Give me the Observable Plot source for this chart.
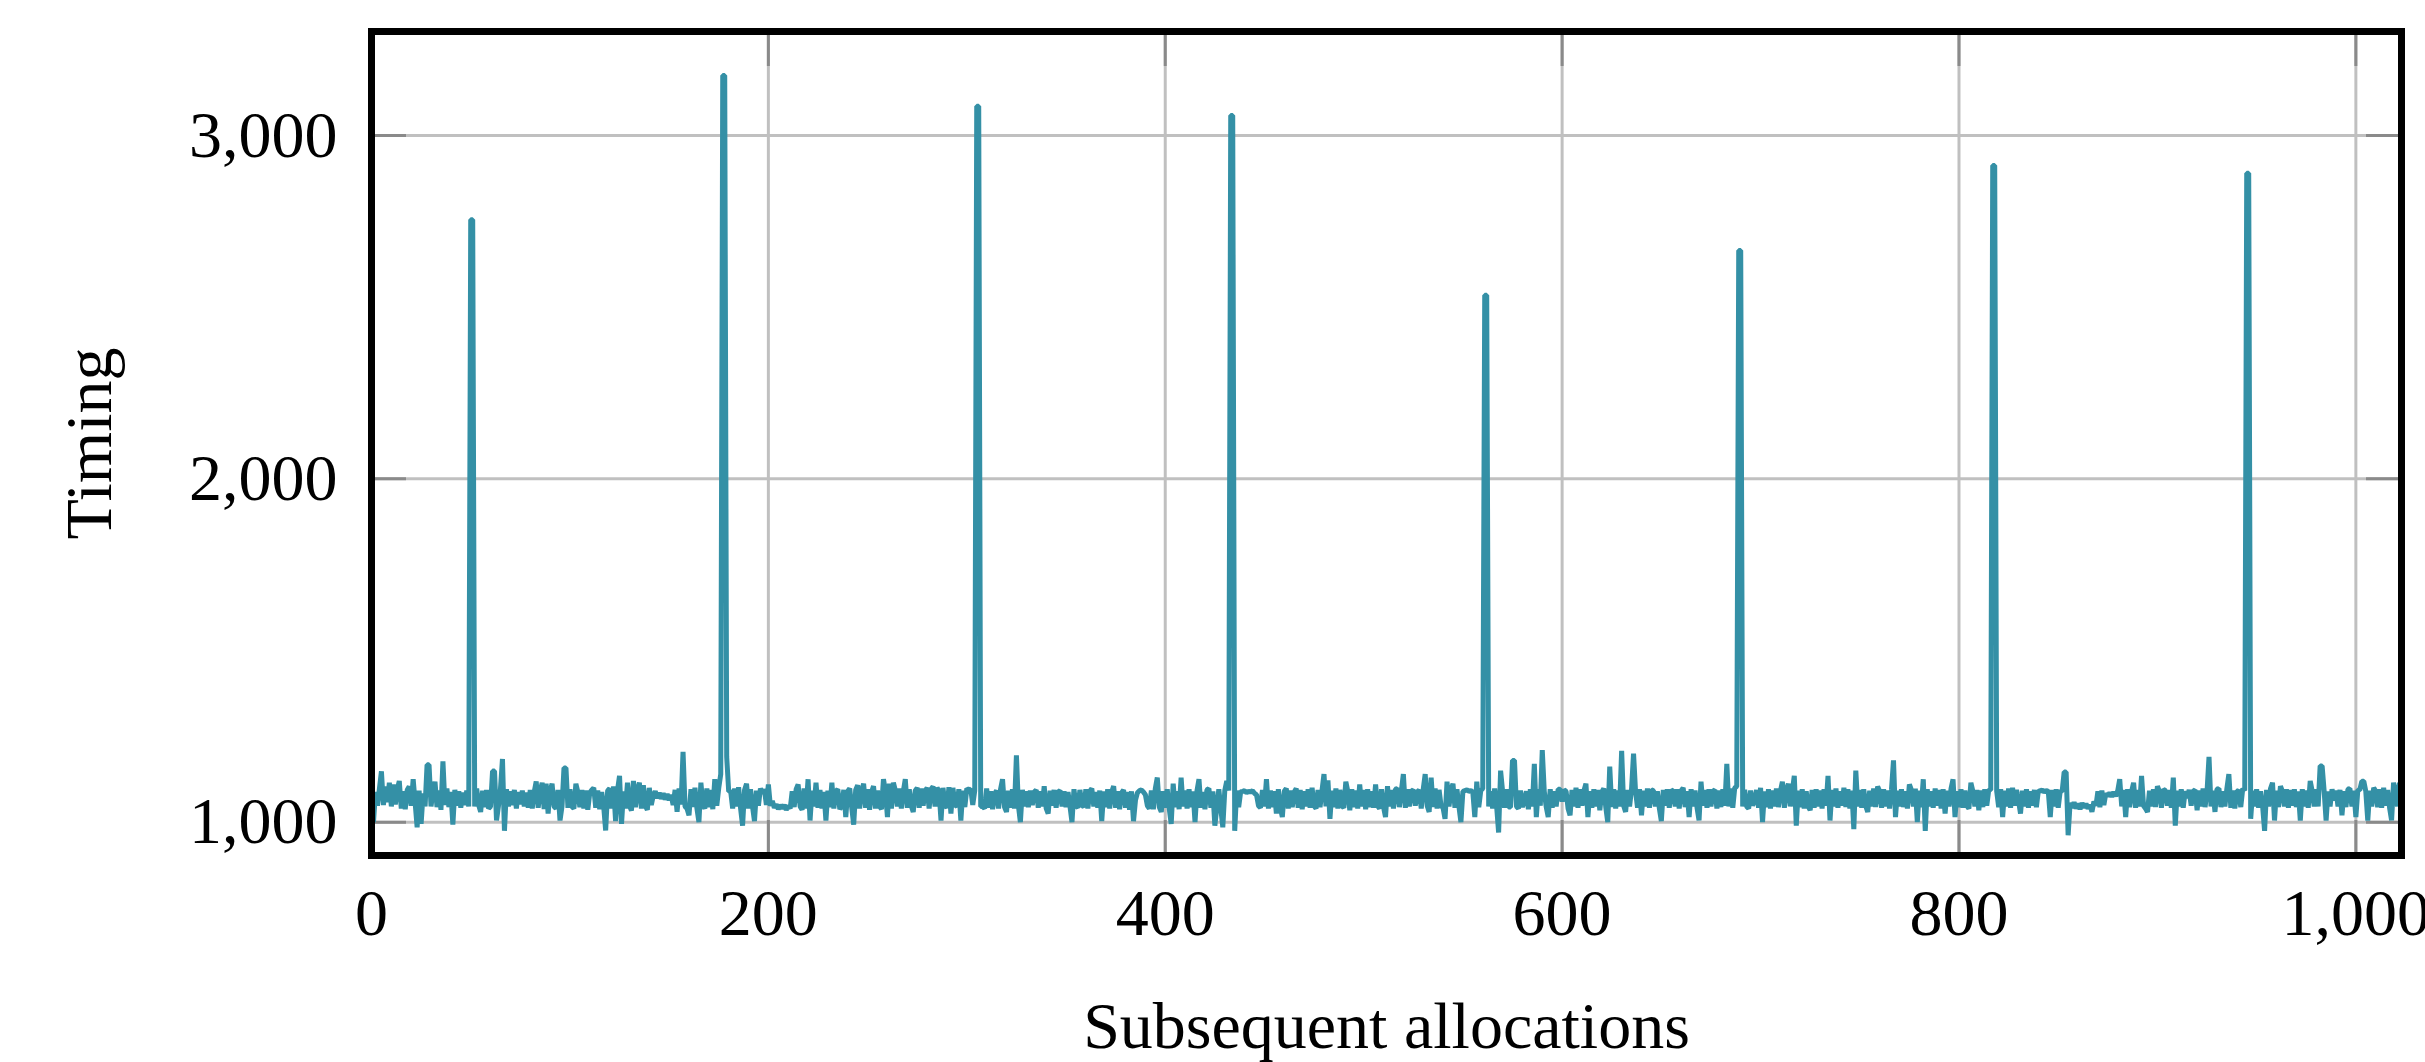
<!DOCTYPE html>
<html>
<head>
<meta charset="utf-8">
<script src="https://cdn.jsdelivr.net/npm/d3@7"></script>
<script src="https://cdn.jsdelivr.net/npm/@observablehq/plot@0.6"></script>
<style>
html, body { margin: 0; padding: 0; background: #ffffff; }
#chart svg { display: block; }
</style>
</head>
<body>
<div id="chart"></div>
<script>
// Timing of 1024 subsequent allocations
const timing = [
1062,1000,1088,1048,1098,1148,1050,1104,1058,1115,1046,1110,1052,1096,1120,1040,
1090,1038,1094,1104,1048,1125,1056,985,1092,995,1084,1046,1167,1167,1046,1092,
1118,1044,1092,1036,1177,1050,1098,1044,1088,993,1094,1048,1090,1042,1086,1050,
1092,1046,2755,2755,1046,1098,1050,1030,1092,1044,1094,1040,1046,1149,1149,1005,
1048,1098,1184,975,1096,1046,1090,1050,1094,1040,1088,1052,1092,1046,1086,1042,
1094,1040,1088,1119,1042,1090,1115,1038,1112,1025,1092,1112,1046,1040,1094,1005,
1046,1158,1158,1042,1096,1046,1040,1112,1088,1044,1094,1040,1092,1036,1086,1094,
1100,1042,1092,1038,1088,1046,976,1092,1098,1040,1104,1003,1094,1135,995,1090,
1040,1115,1048,1034,1120,1044,1094,1115,1040,1108,1048,1036,1100,1050,1078,1090,
1070,1086,1068,1084,1066,1082,1064,1080,1050,1094,1030,1098,1052,1205,1046,1040,
1020,1096,1044,1100,1040,1000,1115,1050,1040,1098,1044,1094,1038,1125,1048,1100,
1140,3175,3175,1190,1090,1090,1040,1098,1046,1102,1040,990,1094,1112,1040,1096,
1046,1003,1092,1048,1098,1084,1096,1050,1110,1048,1062,1042,1052,1038,1050,1040,
1050,1036,1048,1040,1090,1044,1096,1110,1046,1036,1098,1040,1125,1005,1092,1046,
1115,1042,1094,1040,1088,1005,1092,1044,1115,1040,1090,1096,1038,1048,1094,1015,
1090,1098,1042,993,1094,1108,1040,1090,1112,1042,1096,1036,1088,1105,1040,1092,
1046,1038,1125,1090,1015,1112,1040,1115,1092,1046,1098,1040,1090,1125,1042,1096,
1048,1030,1092,1100,1042,1098,1048,1092,1100,1040,1096,1104,1046,1100,1090,1005,
1100,1050,1042,1102,1025,1100,1050,1046,1096,1005,1092,1044,1098,1094,1096,1050,
1092,3085,3085,1046,1046,1040,1098,1042,1090,1038,1082,1092,1040,1096,1125,1044,
1030,1092,1042,1096,1040,1195,1048,1000,1094,1046,1090,1044,1092,1050,1088,1094,
1042,1090,1046,1105,1040,1025,1092,1048,1094,1042,1088,1092,1046,1090,1044,1088,
1046,1000,1096,1048,1042,1094,1050,1044,1096,1040,1090,1098,1046,1088,1042,1092,
1003,1090,1044,1096,1040,1088,1105,1042,1090,1038,1086,1094,1042,1088,1036,1090,
1003,1064,1086,1092,1094,1088,1080,1048,1040,1092,1038,1098,1130,1044,1030,1090,
1042,1096,1040,995,1112,1044,1090,1038,1130,1046,1092,1040,1096,1044,1090,1000,
1092,1125,1042,1088,1038,1094,1098,1042,1090,990,1044,1096,1040,985,1092,1120,
1092,3058,3058,975,1092,1044,1088,1090,1092,1086,1090,1088,1092,1084,1080,1048,
1042,1094,1046,1125,1040,1092,1044,1090,1025,1096,1042,1015,1090,1098,1040,1092,
1044,1088,1098,1042,1094,1038,1090,1046,1096,1042,1100,1048,1040,1094,1044,1092,
1140,1046,1122,1010,1092,1044,1098,1040,1094,1048,1042,1118,1090,1035,1096,1044,
1092,1040,1110,1046,1094,1038,1096,1044,1090,1042,1110,1048,1040,1096,1044,1015,
1105,1046,1094,1040,1096,1098,1044,1092,1140,1042,1096,1046,1090,1094,1048,1088,
1094,1040,1096,1140,1048,1030,1130,1044,1098,1040,1094,1048,1042,1010,1118,1046,
1094,1112,1042,1096,1046,1000,1090,1092,1094,1090,1092,1088,1015,1118,1044,1092,
1098,2535,2535,1046,1090,1040,1098,1046,970,1150,1090,1042,1096,1044,1044,1180,
1180,1046,1040,1092,1044,1063,1090,1038,1096,1046,1170,1015,1096,1048,1210,1090,
1044,1015,1096,1042,1090,1046,1096,1096,1060,1094,1090,1040,1020,1094,1046,1100,
1042,1096,1048,1092,1112,1015,1090,1042,1096,1046,1094,1035,1088,1098,1044,1000,
1162,1044,1096,1040,1092,1046,1208,1048,1030,1094,1046,1098,1200,1090,1042,1096,
1020,1092,1046,1098,1042,1094,1092,1046,1090,1040,1003,1094,1048,1096,1042,1094,
1090,1046,1096,1040,1092,1100,1044,1090,1015,1096,1046,1092,1042,1005,1118,1048,
1094,1042,1096,1046,1090,1094,1040,1092,1044,1096,1048,1170,1046,1098,1042,1100,
1104,2665,2665,1046,1094,1046,1040,1092,1048,1063,1094,1042,1100,1000,1090,1044,
1096,1040,1092,1046,1098,1044,1090,1118,1042,1094,1112,1046,1090,1135,990,1092,
1044,1096,1040,1090,1046,1035,1094,1042,1096,1046,1092,1040,1096,1048,1135,1005,
1094,1046,1098,1042,1090,1048,1100,1044,1096,1040,1092,980,1150,1046,1094,1042,
1096,1048,1030,1092,1046,1098,1044,1104,1090,1042,1096,1046,1092,1040,1096,1180,
1015,1092,1046,1096,1044,1090,1040,1110,1094,1046,1098,1000,1092,1044,1125,975,
1096,1046,1090,1042,1098,1048,1094,1040,1096,1025,1092,1046,1098,1125,1015,1090,
1044,1096,1042,1092,1048,1040,1115,1090,1046,1094,1035,1092,1044,1096,1048,1094,
1094,2913,2913,1090,1044,1096,1015,1092,1046,1098,1042,1100,1048,1094,1063,1025,
1092,1046,1096,1042,1090,1048,1094,1044,1092,1090,1094,1088,1092,1090,1015,1094,
1046,1096,1042,1090,1090,1146,1146,962,1056,1042,1058,1040,1054,1038,1056,1042,
1054,1040,1050,1030,1060,1048,1090,1044,1092,1050,1084,1076,1086,1074,1088,1076,
1092,1125,1046,1094,1015,1096,1044,1090,1115,1042,1094,1046,1135,1048,1040,1030,
1092,1046,1096,1044,1105,1090,1042,1096,1092,1048,1094,1042,1130,990,1092,1046,
1096,1042,1090,1070,1094,1048,1090,1094,1035,1092,1046,1098,1044,1090,1190,1046,
1092,1030,1096,1098,1044,1090,1046,1098,1140,1042,1092,1040,1088,1094,1044,1098,
1092,2890,2890,1010,1092,1046,1096,1042,1090,1048,975,1094,1046,1098,1115,1005,
1092,1044,1105,1090,1046,1096,1042,1094,1048,1096,1044,1090,1005,1096,1046,1092,
1042,1120,1090,1046,1096,1046,1164,1164,1092,1005,1090,1046,1096,1063,1092,1046,
1094,1020,1090,1044,1096,1098,1046,1092,1015,1094,1094,1119,1119,1090,1005,1092,
1046,1100,1090,1044,1096,1042,1100,1048,1094,1042,1005,1115,1090,1046,1115,1090
];
const xTicks = [0, 200, 400, 600, 800, 1000];
const yTicks = [1000, 2000, 3000];
const xLabel = "Subsequent allocations";
const yLabel = "Timing";

if (timing.length !== 1024) throw new Error("timing length " + timing.length);

const rows = timing.map((v, i) => ({i, v}));
const font = "'Liberation Serif', 'Times New Roman', serif";
const W = 2425, H = 1062;
const mL = 371, mR = 24, mT = 31, mB = 207;
const frameW = W - mL - mR, frameH = H - mT - mB;
const tickLen = 35;
const tickColor = "#8a8a8a";
const gridColor = "#c0c0c0";

const chart = Plot.plot({
  width: W,
  height: H,
  marginLeft: mL,
  marginRight: mR,
  marginTop: mT,
  marginBottom: mB,
  style: {fontFamily: font, fontSize: "66px", background: "#ffffff", color: "#000000"},
  x: {domain: [0, 1023]},
  y: {domain: [903, 3303]},
  marks: [
    Plot.gridX(xTicks, {stroke: gridColor, strokeOpacity: 1, strokeWidth: 3}),
    Plot.gridY(yTicks, {stroke: gridColor, strokeOpacity: 1, strokeWidth: 3}),
    Plot.tickX(xTicks, {x: d => d, stroke: tickColor, strokeWidth: 3, insetTop: frameH - tickLen}),
    Plot.tickX(xTicks, {x: d => d, stroke: tickColor, strokeWidth: 3, insetBottom: frameH - tickLen}),
    Plot.tickY(yTicks, {y: d => d, stroke: tickColor, strokeWidth: 3, insetRight: frameW - tickLen}),
    Plot.tickY(yTicks, {y: d => d, stroke: tickColor, strokeWidth: 3, insetLeft: frameW - tickLen}),
    Plot.axisX(xTicks, {tickSize: 0, tickPadding: 33, label: null, fontSize: 66, tickFormat: d3.format(",")}),
    Plot.axisY(yTicks, {tickSize: 0, tickPadding: 34, label: null, fontSize: 66, tickFormat: d3.format(",")}),
    Plot.line(rows, {x: "i", y: "v", stroke: "#3490a6", strokeWidth: 5, strokeLinejoin: "miter"}),
    Plot.frame({stroke: "#000000", strokeWidth: 7}),
    Plot.text([xLabel], {frameAnchor: "bottom", dy: 171, lineAnchor: "middle", textAnchor: "middle", fontSize: 66}),
    Plot.text([yLabel], {frameAnchor: "left", dx: -282, rotate: -90, lineAnchor: "middle", textAnchor: "middle", fontSize: 66})
  ]
});
document.getElementById("chart").appendChild(chart);
</script>
</body>
</html>
